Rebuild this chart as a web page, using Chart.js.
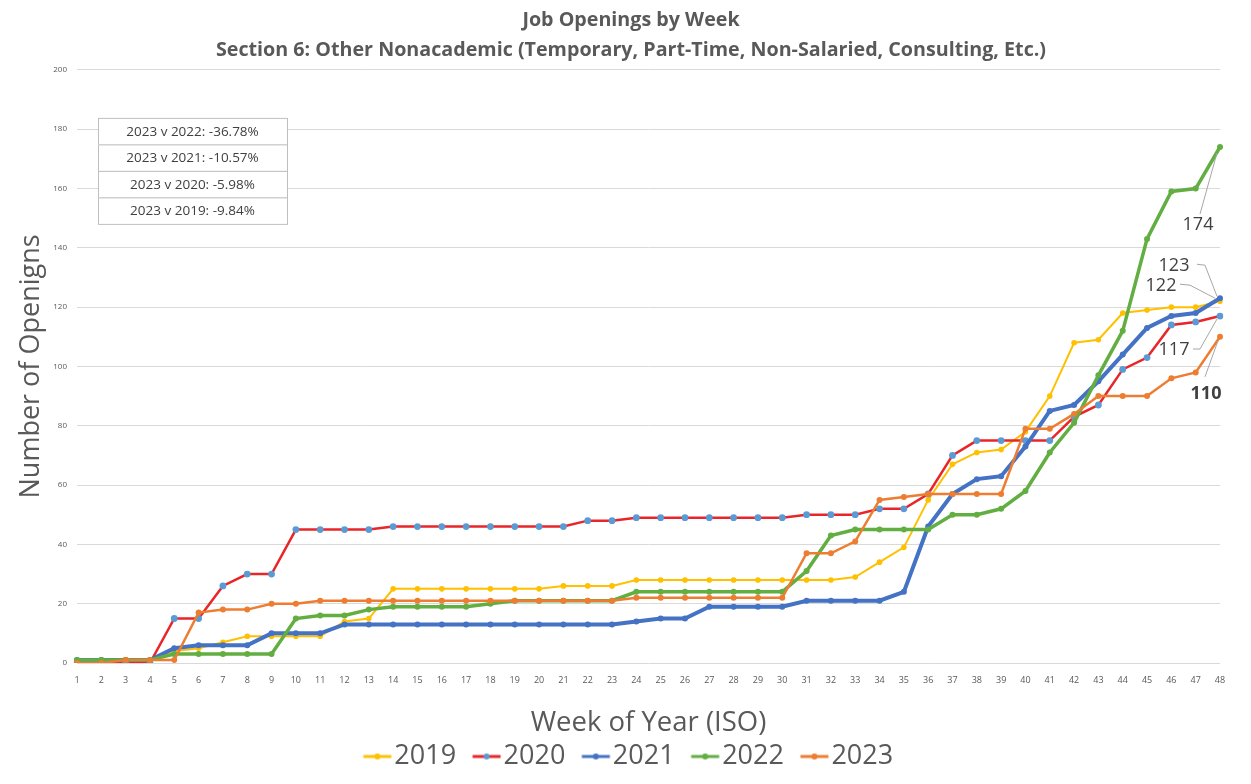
<!DOCTYPE html>
<html>
<head>
<meta charset="utf-8">
<title>Job Openings by Week</title>
<script src="https://cdn.jsdelivr.net/npm/chart.js@4.4.0/dist/chart.umd.min.js"></script>
<style>
  html, body { margin: 0; padding: 0; background: #fff; }
</style>
</head>
<body>
<canvas id="openingsChart" width="1251" height="784"></canvas>
<script>
(function () {
    'use strict';

    // --- data ---
    const weeks = ['1', '2', '3', '4', '5', '6', '7', '8', '9', '10', '11', '12', '13', '14', '15', '16',
        '17', '18', '19', '20', '21', '22', '23', '24', '25', '26', '27', '28', '29', '30', '31', '32',
        '33', '34', '35', '36', '37', '38', '39', '40', '41', '42', '43', '44', '45', '46', '47', '48'];

    const openings2019 = [0, 1, 1, 1, 4, 5, 7, 9, 9, 9, 9, 14, 15, 25, 25, 25, 25, 25, 25, 25, 26, 26, 26, 28,
        28, 28, 28, 28, 28, 28, 28, 28, 29, 34, 39, 55, 67, 71, 72, 78, 90, 108, 109, 118, 119, 120, 120, 122];
    const openings2020 = [0, 0, 0, 0, 15, 15, 26, 30, 30, 45, 45, 45, 45, 46, 46, 46, 46, 46, 46, 46, 46, 48, 48, 49,
        49, 49, 49, 49, 49, 49, 50, 50, 50, 52, 52, 57, 70, 75, 75, 75, 75, 83, 87, 99, 103, 114, 115, 117];
    const openings2021 = [1, 1, 1, 1, 5, 6, 6, 6, 10, 10, 10, 13, 13, 13, 13, 13, 13, 13, 13, 13, 13, 13, 13, 14,
        15, 15, 19, 19, 19, 19, 21, 21, 21, 21, 24, 46, 57, 62, 63, 73, 85, 87, 95, 104, 113, 117, 118, 123];
    const openings2022 = [1, 1, 1, 1, 3, 3, 3, 3, 3, 15, 16, 16, 18, 19, 19, 19, 19, 20, 21, 21, 21, 21, 21, 24,
        24, 24, 24, 24, 24, 24, 31, 43, 45, 45, 45, 45, 50, 50, 52, 58, 71, 81, 97, 112, 143, 159, 160, 174];
    const openings2023 = [0, 0, 1, 1, 1, 17, 18, 18, 20, 20, 21, 21, 21, 21, 21, 21, 21, 21, 21, 21, 21, 21, 21, 22,
        22, 22, 22, 22, 22, 22, 37, 37, 41, 55, 56, 57, 57, 57, 57, 79, 79, 84, 90, 90, 90, 96, 98, 110];

    const comparisons = ['2023 v 2022: -36.78%', '2023 v 2021: -10.57%', '2023 v 2020: -5.98%', '2023 v 2019: -9.84%'];

    const FONT = '"Open Sans", Lato, sans-serif';
    const GREY = '#595959';
    const LEGEND_FONT = 27;
    const LEGEND_BOX = 24;

    // end-of-line labels with leader lines (offsets in px from the last point)
    const endLabelStyle = {
        '2019': { dx: -59, dy: -15, leader: [[-40, -17], [-30, -16], [-5, -3]] },
        '2020': { dx: -46, dy: 34, leader: [[-27, 33], [-20, 33], [-3, 3]] },
        '2021': { dx: -46, dy: -32, leader: [[-23, -34], [-15, -33], [-3, -2]] },
        '2022': { dx: -22, dy: 78, leader: [[-20, 67], [-3, 6]] },
        '2023': { dx: -14, dy: 57, leader: [[-15, 40], [-2, 4]], bold: true }
    };

    function series(label, data, color, width, markerColor, radius, order) {
        return {
            label: label,
            data: data,
            borderColor: color,
            backgroundColor: color,
            borderWidth: width,
            pointBackgroundColor: markerColor,
            pointBorderColor: markerColor,
            pointBorderWidth: 0,
            pointRadius: radius,
            pointHoverRadius: radius,
            tension: 0,
            fill: false,
            order: order
        };
    }

    // line-with-dot swatch, placed so it ends just before the legend text
    function legendSwatch(lineColor, dotColor) {
        const c = document.createElement('canvas');
        c.width = 64;
        c.height = 8;
        const len = 28;
        const start = LEGEND_BOX / 2 + LEGEND_FONT / 2 - 3 - len + c.width / 2;
        const g = c.getContext('2d');
        g.strokeStyle = lineColor;
        g.lineWidth = 3;
        g.beginPath();
        g.moveTo(start, 4);
        g.lineTo(start + len, 4);
        g.stroke();
        g.fillStyle = dotColor;
        g.beginPath();
        g.arc(start + len / 2, 4, 3, 0, Math.PI * 2);
        g.fill();
        return c;
    }

    const endLabelsPlugin = {
        id: 'endLabels',
        afterDatasetsDraw(chart) {
            const ctx = chart.ctx;
            ctx.save();
            chart.data.datasets.forEach((dataset, i) => {
                const style = endLabelStyle[dataset.label];
                const meta = chart.getDatasetMeta(i);
                if (!style || meta.hidden) return;
                const last = meta.data.length - 1;
                const pt = meta.data[last];
                ctx.strokeStyle = '#a6a6a6';
                ctx.lineWidth = 1;
                ctx.beginPath();
                style.leader.forEach((p, k) => {
                    if (k === 0) ctx.moveTo(pt.x + p[0], pt.y + p[1]);
                    else ctx.lineTo(pt.x + p[0], pt.y + p[1]);
                });
                ctx.stroke();
                ctx.fillStyle = '#404040';
                ctx.font = (style.bold ? 'bold ' : '') + '18px ' + FONT;
                ctx.textAlign = 'center';
                ctx.textBaseline = 'middle';
                ctx.fillText(String(dataset.data[last]), pt.x + style.dx, pt.y + style.dy);
            });
            ctx.restore();
        }
    };

    const comparisonBoxPlugin = {
        id: 'comparisonBox',
        afterDraw(chart) {
            const ctx = chart.ctx;
            const area = chart.chartArea;
            const x = area.left + 21;
            let y = area.top + 48;
            const w = 189;
            const h = 26.5;
            ctx.save();
            ctx.font = '13.5px ' + FONT;
            ctx.textAlign = 'center';
            ctx.textBaseline = 'middle';
            comparisons.forEach((text) => {
                ctx.fillStyle = '#ffffff';
                ctx.fillRect(x, y, w, h);
                ctx.strokeStyle = '#bfbfbf';
                ctx.lineWidth = 1;
                ctx.strokeRect(x + 0.5, y + 0.5, w, h);
                ctx.fillStyle = '#404040';
                ctx.fillText(text, x + w / 2, y + h / 2 + 1);
                y += h;
            });
            ctx.restore();
        }
    };

    // title and legend sit a little right of the canvas centre in the original
    const boxShiftPlugin = {
        id: 'boxShift',
        afterLayout(chart) {
            if (chart.titleBlock) {
                chart.titleBlock.left += 21;
                chart.titleBlock.right += 21;
            }
            if (chart.legend) {
                chart.legend.left += 15;
                chart.legend.right += 15;
                chart.legend.top += 3;
                chart.legend.bottom += 3;
            }
        }
    };

    const datasets = [
        series('2019', openings2019, '#FFC000', 2, '#FFC000', 2.8, 5),
        series('2020', openings2020, '#E8262A', 2.5, '#5B9BD5', 3.4, 4),
        series('2021', openings2021, '#4472C4', 4, '#4472C4', 3, 3),
        series('2022', openings2022, '#62AE41', 3.5, '#62AE41', 3, 2),
        series('2023', openings2023, '#ED7D31', 2.5, '#ED7D31', 3, 1)
    ];

    new Chart(document.getElementById('openingsChart'), {
        type: 'line',
        plugins: [endLabelsPlugin, comparisonBoxPlugin, boxShiftPlugin],
        data: { labels: weeks, datasets: datasets },
        options: {
            responsive: false,
            animation: false,
            devicePixelRatio: 1,
            layout: { padding: { left: 0, right: 31, top: 3, bottom: 7 } },
            plugins: {
                title: {
                    display: true,
                    text: ['Job Openings by Week',
                        'Section 6: Other Nonacademic (Temporary, Part-Time, Non-Salaried, Consulting, Etc.)'],
                    color: GREY,
                    font: { family: FONT, size: 19.7, weight: 'bold', lineHeight: 1.52 },
                    padding: { top: 2, bottom: 5 }
                },
                legend: {
                    position: 'bottom',
                    labels: {
                        color: GREY,
                        font: { family: FONT, size: LEGEND_FONT },
                        usePointStyle: true,
                        pointStyleWidth: LEGEND_BOX,
                        padding: 10,
                        generateLabels(chart) {
                            return chart.data.datasets.map((ds, i) => ({
                                text: ds.label,
                                fillStyle: ds.borderColor,
                                strokeStyle: ds.borderColor,
                                fontColor: GREY,
                                lineWidth: 0,
                                hidden: !chart.isDatasetVisible(i),
                                datasetIndex: i,
                                pointStyle: legendSwatch(ds.borderColor, ds.pointBackgroundColor),
                                rotation: 0
                            }));
                        }
                    }
                },
                tooltip: { enabled: false }
            },
            scales: {
                x: {
                    offset: false,
                    grid: { display: false },
                    border: { display: false },
                    ticks: {
                        color: GREY,
                        font: { family: FONT, size: 9 },
                        autoSkip: false,
                        maxRotation: 0,
                        padding: 4
                    },
                    title: {
                        display: true,
                        text: 'Week of Year (ISO)',
                        color: GREY,
                        font: { family: FONT, size: 27.5, lineHeight: 1 },
                        padding: { top: 0, bottom: -7 }
                    },
                    afterFit(scale) { scale.height = 67; }
                },
                y: {
                    min: 0,
                    max: 200,
                    border: { display: false },
                    grid: { color: '#d9d9d9', drawTicks: false },
                    ticks: {
                        stepSize: 20,
                        color: GREY,
                        font: { family: FONT, size: 8 },
                        padding: 10
                    },
                    title: {
                        display: true,
                        text: 'Number of Openigns',
                        color: GREY,
                        font: { family: FONT, size: 27 },
                        padding: { top: 15, bottom: 0 }
                    },
                    afterFit(scale) { scale.width = 77; }
                }
            }
        }
    });
})();
</script>
</body>
</html>
